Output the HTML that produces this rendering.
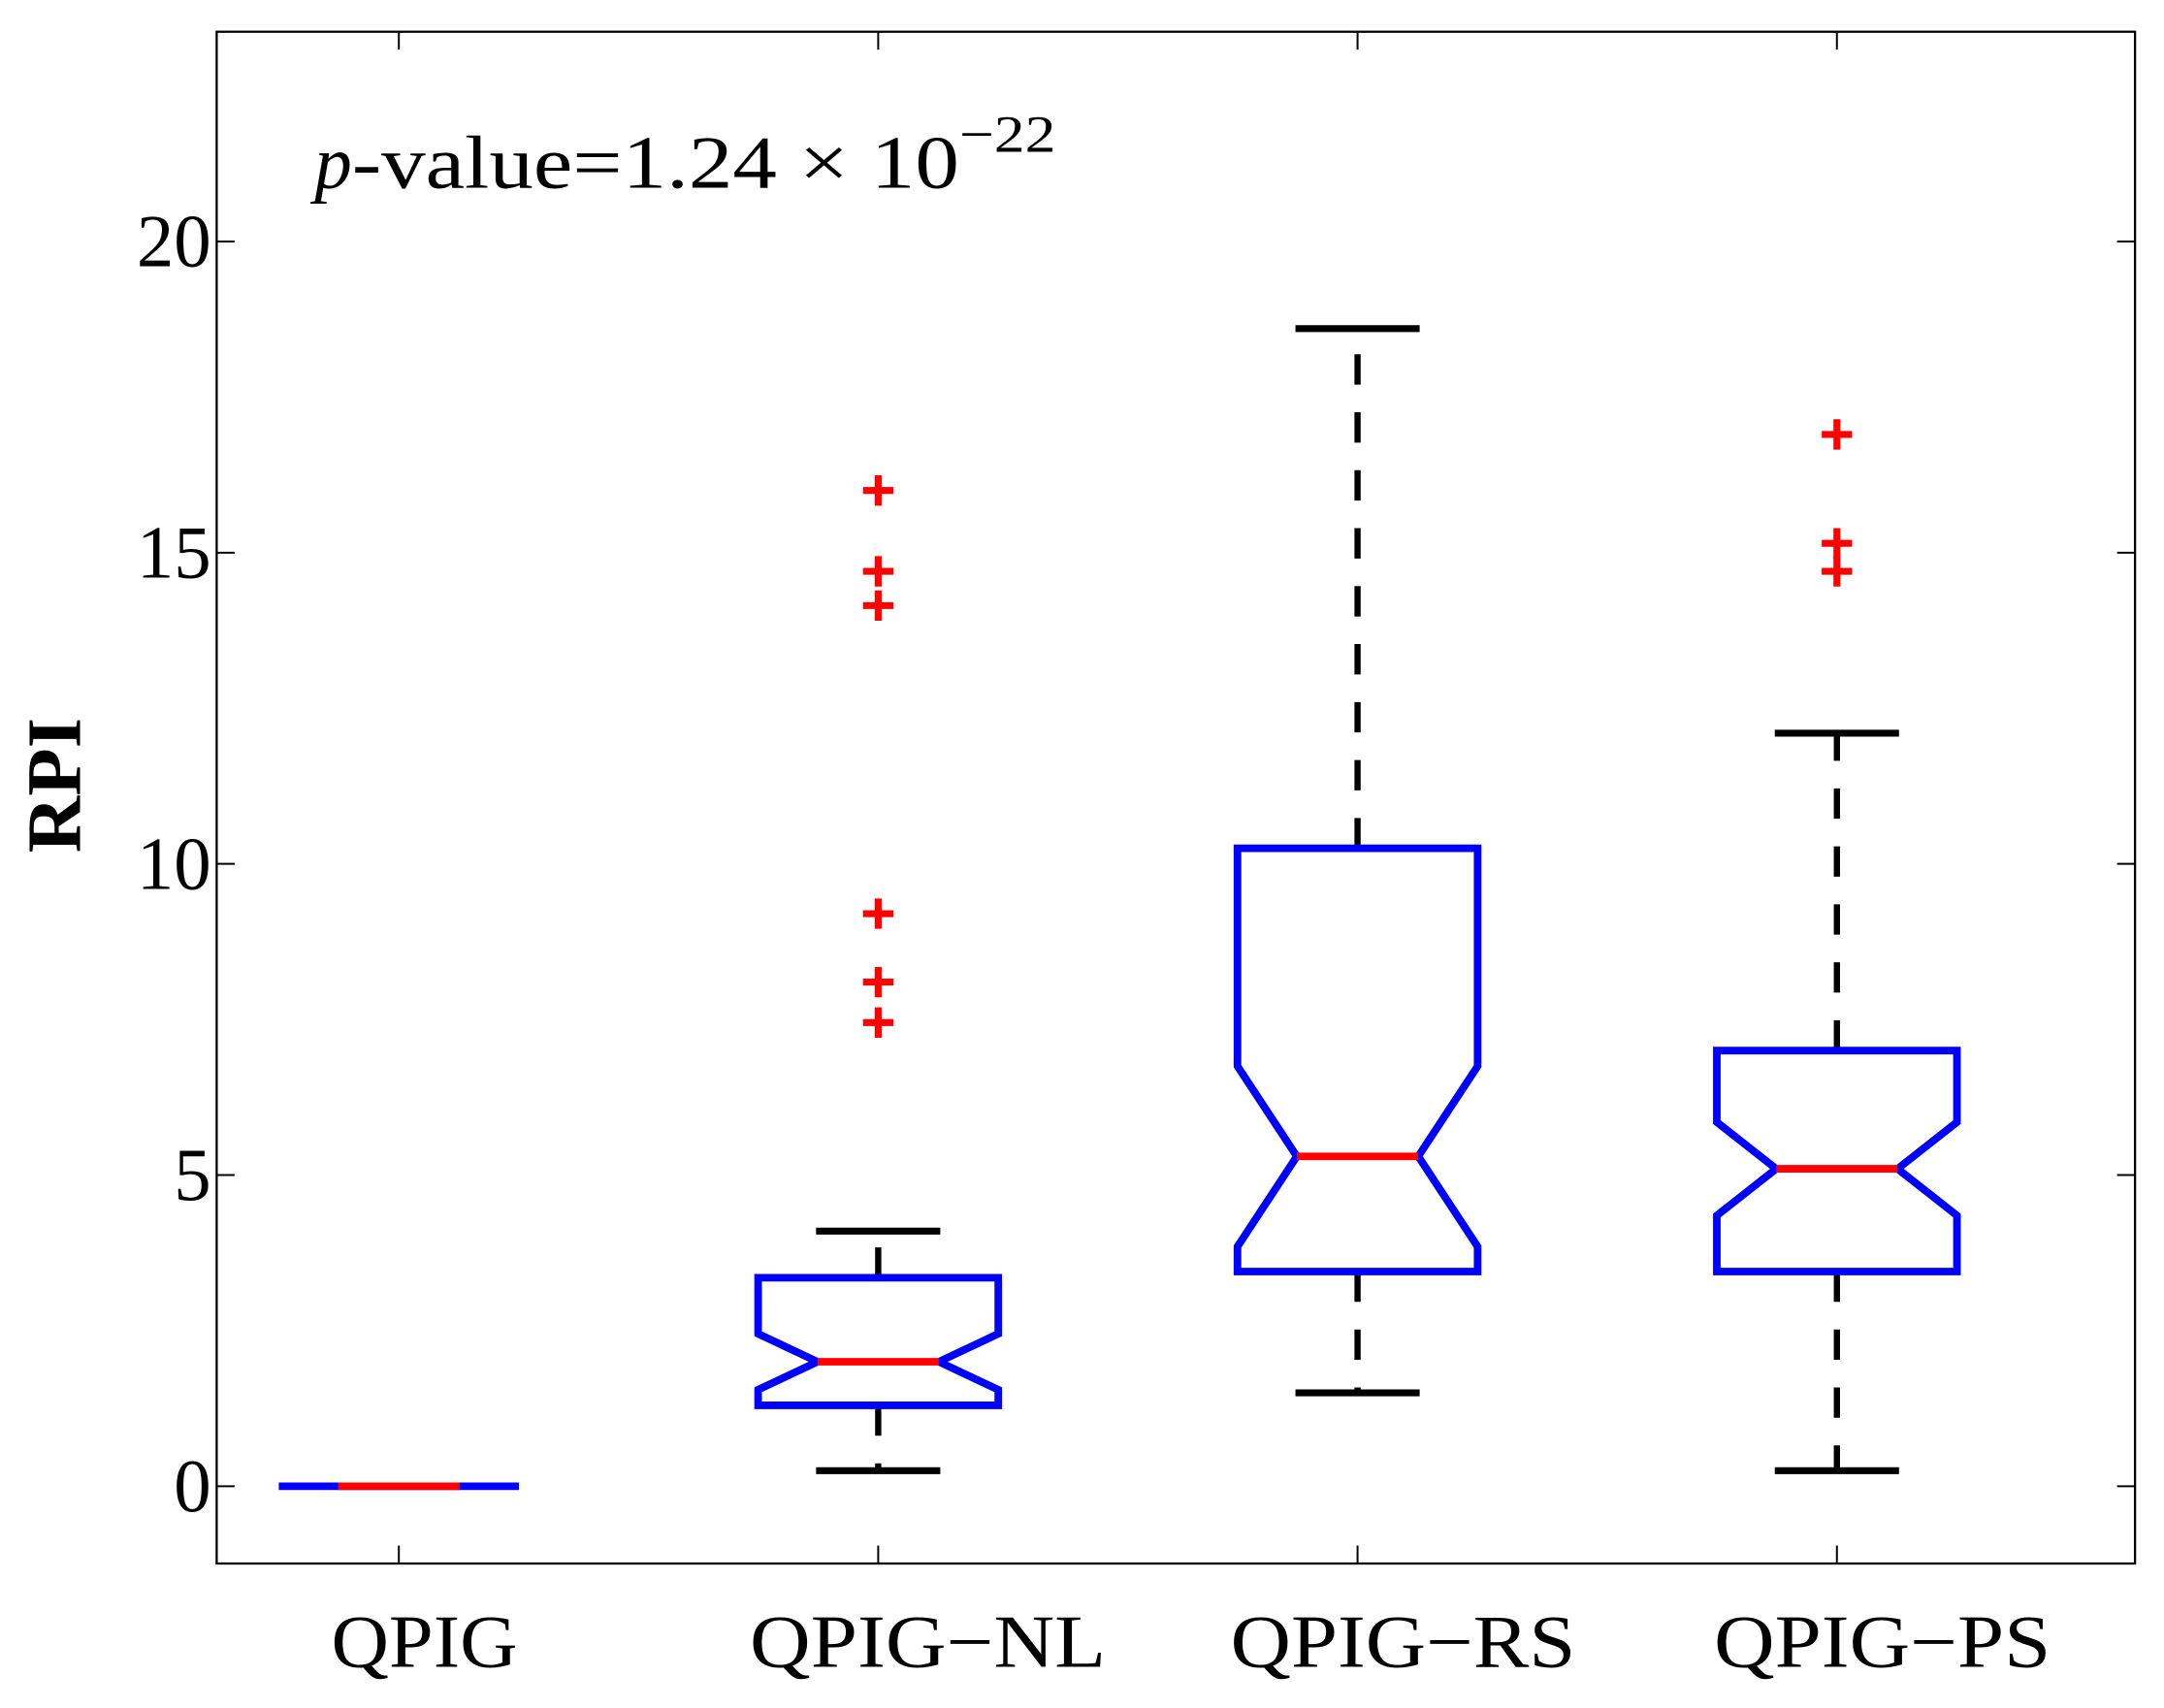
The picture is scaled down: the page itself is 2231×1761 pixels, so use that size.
<!DOCTYPE html>
<html><head><meta charset="utf-8"><style>
html,body{margin:0;padding:0;background:#fff;}
svg{display:block;}
text{font-family:"Liberation Serif",serif;fill:#000;}
</style></head><body>
<svg id="chart" width="2231" height="1761" viewBox="0 0 1568 1237.7" preserveAspectRatio="none" xmlns="http://www.w3.org/2000/svg">
<rect x="0" y="0" width="1568" height="1238" fill="#fff"/>
<g id="marks"></g>
<rect x="157" y="23" width="1390" height="1110" fill="none" stroke="#000" stroke-width="1.6"/>
<g id="axes"></g>
<text x="228" y="136" font-size="54"><tspan font-style="italic">p</tspan><tspan textLength="440" lengthAdjust="spacingAndGlyphs">-value=1.24 × 10</tspan><tspan dy="-26" font-size="38" textLength="70" lengthAdjust="spacingAndGlyphs">−22</tspan></text>
<text transform="translate(58,569) rotate(-90)" text-anchor="middle" font-size="56" font-weight="bold" textLength="98" lengthAdjust="spacingAndGlyphs">RPI</text>
</svg>
<script>
const categories = ["QPIG","QPIG\u2212NL","QPIG\u2212RS","QPIG\u2212PS"];
const whiskerLow = [0, 0.25, 1.5, 0.25];
const whiskerHigh = [0, 4.1, 18.6, 12.1];
const q1 = [0, 1.3, 3.45, 3.45];
const q3 = [0, 3.35, 10.25, 7.0];
const medians = [0, 2.0, 5.3, 5.1];
const notchLow = [0, 1.55, 3.85, 4.35];
const notchHigh = [0, 2.45, 6.75, 5.85];
const outliers = [[], [7.45, 8.1, 9.2, 14.15, 14.7, 16.0], [], [14.7, 15.15, 16.9]];
const yTicks = [0, 5, 10, 15, 20];

const NS = "http://www.w3.org/2000/svg";
const y0 = 1077, yPer = 45.1;
function yS(v){ return y0 - v * yPer; }
function xS(i){ return 289 + i * 347.33; }
const labelWidths = [135, 258, 250, 244];
const labelOffsets = [-49, -93, -92, -89];
const marks = document.getElementById('marks');
const axes = document.getElementById('axes');
function mk(tag, attrs, parent){
  const e = document.createElementNS(NS, tag);
  for (const k in attrs) e.setAttribute(k, attrs[k]);
  parent.appendChild(e);
  return e;
}
const boxHalf = 87, notchHalf = 44, capHalf = 45;
categories.forEach((c, i) => {
  const cx = xS(i);
  const g = mk('g', {}, marks);
  
  
  if (whiskerHigh[i] > q3[i]) {
    const w = mk('line', {x1:cx, x2:cx, y1:yS(q3[i]), y2:yS(whiskerHigh[i]), stroke:'#000', 'stroke-width':4.5, 'stroke-dasharray':'22,20'}, g);
    
    
    const cap = mk('line', {x1:cx-capHalf, x2:cx+capHalf, y1:yS(whiskerHigh[i]), y2:yS(whiskerHigh[i]), stroke:'#000', 'stroke-width':5}, g);
    
    
  }
  if (whiskerLow[i] < q1[i]) {
    const w = mk('line', {x1:cx, x2:cx, y1:yS(q1[i]), y2:yS(whiskerLow[i]), stroke:'#000', 'stroke-width':4.5, 'stroke-dasharray':'22,20'}, g);
    
    
    const cap = mk('line', {x1:cx-capHalf, x2:cx+capHalf, y1:yS(whiskerLow[i]), y2:yS(whiskerLow[i]), stroke:'#000', 'stroke-width':5}, g);
    
    
  }
  let pts;
  if (q3[i] === q1[i]) {
    pts = [[cx-boxHalf, yS(q1[i])],[cx+boxHalf, yS(q1[i])]];
  } else {
    const nl = Math.max(notchLow[i], q1[i]), nh = Math.min(notchHigh[i], q3[i]);
    pts = [[cx-boxHalf,yS(q1[i])],[cx-boxHalf,yS(nl)],[cx-notchHalf,yS(medians[i])],[cx-boxHalf,yS(nh)],[cx-boxHalf,yS(q3[i])],
           [cx+boxHalf,yS(q3[i])],[cx+boxHalf,yS(nh)],[cx+notchHalf,yS(medians[i])],[cx+boxHalf,yS(nl)],[cx+boxHalf,yS(q1[i])]];
  }
  const box = mk(q3[i]===q1[i]?'polyline':'polygon', {points: pts.map(p=>p.join(',')).join(' '), fill:'none', stroke:'#0000ff', 'stroke-width':5.5}, g);
  
  
  const med = mk('line', {x1:cx-notchHalf, x2:cx+notchHalf, y1:yS(medians[i]), y2:yS(medians[i]), stroke:'#ff0000', 'stroke-width':5.5}, g);
  
  
  outliers[i].forEach(v => {
    const p = mk('path', {d:`M${cx-11},${yS(v)}H${cx+11}M${cx},${yS(v)-11}V${yS(v)+11}`, stroke:'#ff0000', 'stroke-width':5, fill:'none'}, g);
    
    
  });
  const t1 = mk('line', {x1:cx, x2:cx, y1:1133, y2:1120, stroke:'#000', 'stroke-width':1.4}, axes);
  
  
  const t2 = mk('line', {x1:cx, x2:cx, y1:23, y2:36, stroke:'#000', 'stroke-width':1.4}, axes);
  
  
  const lab = mk('text', {x:cx+labelOffsets[i], y:1208, 'text-anchor':'start', 'font-size':54, textLength:labelWidths[i], lengthAdjust:'spacingAndGlyphs'}, axes);
  lab.textContent = c;
  
  
});
yTicks.forEach(v => {
  const t1 = mk('line', {x1:157, x2:170, y1:yS(v), y2:yS(v), stroke:'#000', 'stroke-width':1.4}, axes);
  
  
  const t2 = mk('line', {x1:1534, x2:1547, y1:yS(v), y2:yS(v), stroke:'#000', 'stroke-width':1.4}, axes);
  
  
  const lab = mk('text', {x:153, y:yS(v)+18, 'text-anchor':'end', 'font-size':54}, axes);
  lab.textContent = String(v);
  
  
});
</script>
</body></html>
